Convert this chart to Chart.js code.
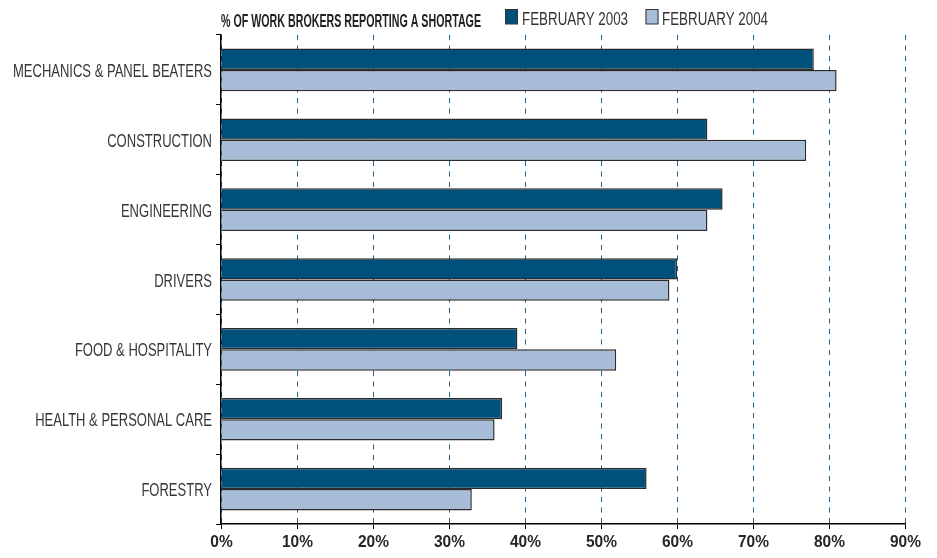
<!DOCTYPE html>
<html><head><meta charset="utf-8">
<script src="https://cdn.jsdelivr.net/npm/chart.js@4/dist/chart.umd.min.js"></script>
<style>html,body{margin:0;padding:0;background:#fff}#wrap{width:937px;height:558px}</style>
</head><body><div id="wrap"><canvas id="c" width="937" height="558"></canvas></div>
<script>
const categories = ['MECHANICS & PANEL BEATERS','CONSTRUCTION','ENGINEERING','DRIVERS','FOOD & HOSPITALITY','HEALTH & PERSONAL CARE','FORESTRY'];
const feb2003 = [78, 64, 66, 60, 39, 37, 56];
const feb2004 = [81, 77, 64, 59, 52, 36, 33];
const seriesLabels = ['FEBRUARY 2003', 'FEBRUARY 2004'];
const xTickValues = [0, 10, 20, 30, 40, 50, 60, 70, 80, 90];
const headerText = '% OF WORK BROKERS REPORTING A SHORTAGE';

const FAM = '"Liberation Sans", Arial, sans-serif';

function scaledText(ctx, txt, x, baseline, font, sx, color, align) {
  ctx.save();
  ctx.font = font;
  ctx.translate(x, baseline);
  ctx.scale(sx, 1);
  ctx.fillStyle = color;
  ctx.textBaseline = 'alphabetic';
  ctx.textAlign = align || 'left';
  ctx.fillText(txt, 0, 0);
  ctx.restore();
}
function factorFor(ctx, txt, font, width) {
  ctx.save(); ctx.font = font;
  const w = ctx.measureText(txt).width;
  ctx.restore();
  return width / w;
}

const textPlugin = {
  id: 'condensedText',
  afterDraw(chart) {
    const ctx = chart.ctx;
    // header
    const hf = 'bold 18px ' + FAM;
    scaledText(ctx, headerText, 221, 27, hf, factorFor(ctx, headerText, hf, 260), '#222');
    // legend
    const items = [{x: 505, tx: 522}, {x: 645.5, tx: 662}];
    const lf = '17.5px ' + FAM;
    const lk = factorFor(ctx, 'FEBRUARY 2003', lf, 106);
    chart.data.datasets.forEach((ds, i) => {
      const it = items[i];
      ctx.save();
      ctx.fillStyle = ds.backgroundColor;
      ctx.fillRect(it.x, 9.5, 13, 14.5);
      ctx.strokeStyle = '#333';
      ctx.lineWidth = 1;
      ctx.strokeRect(it.x + 0.5, 9.5, 12, 14.5);
      ctx.restore();
      scaledText(ctx, ds.label, it.tx, 24.5, lf, lk, '#333');
    });
    // category labels
    const ys = chart.scales.y;
    const cf = '18px ' + FAM;
    const ck = factorFor(ctx, categories[0], cf, 199);
    chart.data.labels.forEach((c, i) => {
      const y = ys.getPixelForValue(i);
      scaledText(ctx, c, 212, y + 7, cf, ck, '#363636', 'right');
    });
    // x tick labels
    const xs = chart.scales.x;
    const xf = 'bold 17px ' + FAM;
    const xk = factorFor(ctx, '10%', xf, 31);
    xs.ticks.forEach(t => {
      const x = xs.getPixelForValue(t.value);
      scaledText(ctx, t.value + '%', x + 0.5, 547.3, xf, xk, '#262626', 'center');
    });
  }
};

new Chart(document.getElementById('c'), {
  type: 'bar',
  data: {
    labels: categories,
    datasets: [
      {label: seriesLabels[0], data: feb2003, backgroundColor: '#00507c', borderColor: '#2b2b2b', borderWidth: 1.5, borderSkipped: 'start'},
      {label: seriesLabels[1], data: feb2004, backgroundColor: '#a7bdd7', borderColor: '#2b2b2b', borderWidth: 1.5, borderSkipped: 'start'}
    ]
  },
  options: {
    indexAxis: 'y',
    responsive: false,
    animation: false,
    devicePixelRatio: 1,
    layout: {padding: {top: 35, right: 32, left: 0, bottom: 0}},
    datasets: {bar: {categoryPercentage: 0.61, barPercentage: 1.0}},
    plugins: {legend: {display: false}, title: {display: false}, tooltip: {enabled: false}},
    scales: {
      x: {
        min: 0, max: 90,
        afterBuildTicks(scale) { scale.ticks = xTickValues.map(v => ({value: v})); },
        afterFit(scale) { scale.height = 34; },
        grid: {color: '#1d5f8c', lineWidth: 1, drawTicks: true, tickLength: 5, tickColor: '#000', tickWidth: 1, tickBorderDash: []},
        border: {display: true, color: '#000', width: 1.5, dash: [5, 5.5]},
        ticks: {display: false}
      },
      y: {
        afterFit(scale) { scale.width = 221; },
        grid: {offset: true, drawOnChartArea: false, drawTicks: true, tickLength: 5, tickColor: '#000', tickWidth: 1},
        border: {display: true, color: '#000', width: 1.5},
        ticks: {display: false}
      }
    }
  },
  plugins: [textPlugin]
});
</script>
</body></html>
